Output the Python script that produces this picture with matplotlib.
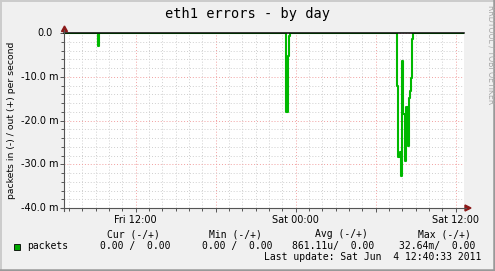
import numpy as np
import matplotlib
matplotlib.use('Agg')
import matplotlib.pyplot as plt
from matplotlib.patches import Polygon
from matplotlib.lines import Line2D
from matplotlib import transforms

W, H = 495, 271

# time axis in hours since Fri 00:00, graph spans Fri 06:37 .. Sat 12:37
t_start, t_end = 6.625, 36.625
t_hours = [6.625, 9.14, 9.25, 23.26, 23.40, 23.50, 23.55,
           31.585, 31.71, 31.79, 31.92, 32.00, 32.07, 32.20, 32.275,
           32.425, 32.52, 32.575, 32.65, 32.725, 32.82, 36.625]
# incoming packet errors, milli-packets per second (drawn negative)
packets_in = [0, 3.0, 0, 18.1, 5.2, 0.7, 0,
              12.1, 28.4, 27.1, 32.64, 6.4, 18.5, 29.3, 17.0,
              25.8, 14.9, 13.2, 10.3, 1.4, 0, 0]

y_ticks = [0, -10, -20, -30, -40]
y_labels = ['0.0', '-10.0 m', '-20.0 m', '-30.0 m', '-40.0 m']
x_major = [12, 18, 24, 30, 36]
x_labels = ['Fri 12:00', '', 'Sat 00:00', '', 'Sat 12:00']

legend_heads = ['Cur (-/+)', 'Min (-/+)', 'Avg (-/+)', 'Max (-/+)']
legend_values = ['0.00 /  0.00', '0.00 /  0.00', '861.11u/  0.00', '32.64m/  0.00']
head_x = [106.7, 209.3, 315, 418]
value_x = [100, 201.7, 291.7, 399.3]


def fx(x):
    return x / W


def fy(y):
    return 1 - y / H


fig = plt.figure(figsize=(W / 100, H / 100), dpi=100)
fig.patch.set_facecolor('#F0F0F0')
ax = fig.add_axes([fx(64), fy(208), 400 / W, 175 / H])
ax.set_facecolor('white')

ax.step(t_hours, -np.array(packets_in), where='post', color='#00B800', lw=1.5, zorder=3)
ax.axhline(0, color='black', lw=1.1, zorder=4, clip_on=False)

ax.set_xlim(t_start, t_end)
ax.set_ylim(-40, 0)
ax.set_xticks(x_major)
ax.set_xticklabels(x_labels)
ax.set_xticks(np.arange(7, 37, 1), minor=True)
ax.set_yticks(y_ticks)
ax.set_yticklabels([])
ax.set_yticks(np.arange(-40, 1, 2), minor=True)

ax.grid(which='minor', color='#CFCFCF', linestyle=(0, (1, 2)), lw=0.7)
ax.grid(which='major', color='#F2A0A0', linestyle=(0, (1, 2)), lw=0.7)
ax.tick_params(which='both', length=2, width=0.7, color='#555555', pad=2, labelsize=7)
ax.tick_params(which='major', length=3)
for s in ax.spines.values():
    s.set_visible(False)

# y tick labels, right aligned like rrdtool
trans = transforms.blended_transform_factory(fig.transFigure, ax.transData)
for v, lab in zip(y_ticks, y_labels):
    xr = 58.3 if lab.endswith('m') else 52.3
    fig.text(fx(xr), v, lab, transform=trans, ha='right', va='center', fontsize=7)

# axes lines and arrows
fig.add_artist(Line2D([fx(64), fx(64)], [fy(211), fy(30)], color='#555555', lw=0.8))
fig.add_artist(Line2D([fx(61), fx(466)], [fy(208), fy(208)], color='#555555', lw=0.8))
fig.add_artist(Polygon([(fx(61.5), fy(31.5)), (fx(67.5), fy(31.5)), (fx(64.5), fy(26))],
                       closed=True, color='#8B1A1A', transform=fig.transFigure))
fig.add_artist(Polygon([(fx(465), fy(205)), (fx(465), fy(211)), (fx(471), fy(208))],
                       closed=True, color='#8B1A1A', transform=fig.transFigure))

# titles
fig.text(fx(247.5), fy(14), 'eth1 errors - by day', ha='center', va='center',
         family='DejaVu Sans Mono', fontsize=9.8)
fig.text(fx(11.5), fy(120), 'packets in (-) / out (+) per second', rotation=90,
         ha='center', va='center', fontsize=6.7)
fig.text(fx(490.5), fy(5), 'RRDTOOL / TOBI OETIKER', rotation=270, ha='center', va='top',
         fontsize=5.6, color='#A8A8A8')

# legend
for hx, hd in zip(head_x, legend_heads):
    fig.text(fx(hx), fy(234.3), hd, ha='left', va='center', family='DejaVu Sans Mono', fontsize=7)
for vx, val in zip(value_x, legend_values):
    fig.text(fx(vx), fy(246.3), val, ha='left', va='center', family='DejaVu Sans Mono', fontsize=7)
fig.add_artist(plt.Rectangle((fx(14), fy(249.5)), 6 / W, 6 / H, facecolor='#00A800',
                             edgecolor='black', lw=0.6, transform=fig.transFigure))
fig.text(fx(27), fy(246.3), 'packets', ha='left', va='center', family='DejaVu Sans Mono', fontsize=7)
fig.text(fx(481), fy(257.5), 'Last update: Sat Jun  4 12:40:33 2011', ha='right', va='center',
         family='DejaVu Sans Mono', fontsize=7)

# frame shading
fig.add_artist(Line2D([0, 1], [fy(0.7), fy(0.7)], color='#CBCBCB', lw=1.4))
fig.add_artist(Line2D([fx(0.7), fx(0.7)], [0, 1], color='#CBCBCB', lw=1.4))
fig.add_artist(Line2D([0, 1], [fy(269.8), fy(269.8)], color='#999999', lw=1.8))
fig.add_artist(Line2D([fx(493.8), fx(493.8)], [0, 1], color='#999999', lw=1.8))

fig.savefig('out.png', dpi=100, facecolor=fig.get_facecolor())
